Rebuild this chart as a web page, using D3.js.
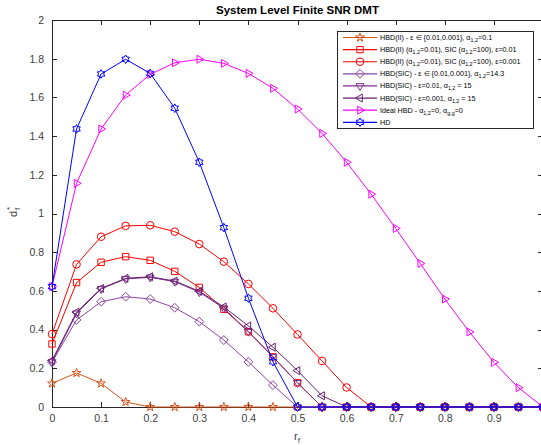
<!DOCTYPE html>
<html>
<head>
<meta charset="utf-8">
<script src="https://cdn.jsdelivr.net/npm/d3@7/dist/d3.min.js"></script>
<style>
  body { margin: 0; background: #fff; }
  svg { display: block; font-family: "Liberation Sans", Arial, Helvetica, sans-serif; }
</style>
</head>
<body>
<svg id="chart" width="541" height="445"></svg>
<script>
// Rate points r_f
const rf = [0, 0.05, 0.1, 0.15, 0.2, 0.25, 0.3, 0.35, 0.4, 0.45, 0.5,
            0.55, 0.6, 0.65, 0.7, 0.75, 0.8, 0.85, 0.9, 0.95, 1];

// Diversity d_f^* for each scheme
const hbdIIEps = [0.122, 0.176, 0.122, 0.026, 0, 0, 0, 0, 0, 0, 0, 0, 0, 0, 0, 0, 0, 0, 0, 0, 0];
const hbdIISic01 = [0.326, 0.643, 0.748, 0.777, 0.758, 0.701, 0.618, 0.505, 0.389, 0.259, 0.125, 0, 0, 0, 0, 0, 0, 0, 0, 0, 0];
const hbdIISic001 = [0.377, 0.737, 0.88, 0.936, 0.939, 0.906, 0.842, 0.751, 0.636, 0.51, 0.375, 0.238, 0.101, 0, 0, 0, 0, 0, 0, 0, 0];
const hbdSicEps = [0.232, 0.45, 0.544, 0.57, 0.558, 0.513, 0.441, 0.346, 0.233, 0.113, 0, 0, 0, 0, 0, 0, 0, 0, 0, 0, 0];
const hbdSic01 = [0.232, 0.484, 0.61, 0.662, 0.67, 0.648, 0.594, 0.51, 0.39, 0.26, 0.125, 0, 0, 0, 0, 0, 0, 0, 0, 0, 0];
const hbdSic001 = [0.24, 0.49, 0.613, 0.665, 0.673, 0.651, 0.598, 0.517, 0.419, 0.309, 0.188, 0.058, 0, 0, 0, 0, 0, 0, 0, 0, 0];
const idealHbd = [0.622, 1.156, 1.437, 1.612, 1.719, 1.779, 1.797, 1.776, 1.724, 1.647, 1.54, 1.414, 1.265, 1.10, 0.923, 0.742, 0.558, 0.388, 0.231, 0.1, 0];
const hd = [0.622, 1.437, 1.721, 1.797, 1.724, 1.544, 1.265, 0.927, 0.562, 0.234, 0, 0, 0, 0, 0, 0, 0, 0, 0, 0, 0];

// Axis ticks (the tick at 1 sits on the clipped right edge and carries no label)
const xTicks = [0, 0.1, 0.2, 0.3, 0.4, 0.5, 0.6, 0.7, 0.8, 0.9, 1];
const xTickLabels = ["0", "0.1", "0.2", "0.3", "0.4", "0.5", "0.6", "0.7", "0.8", "0.9", ""];
const yTicks = [0, 0.2, 0.4, 0.6, 0.8, 1, 1.2, 1.4, 1.6, 1.8, 2];
const yTickLabels = ["0", "0.2", "0.4", "0.6", "0.8", "1", "1.2", "1.4", "1.6", "1.8", "2"];

// Legend entries: text runs, "s" marks a subscript run
const legendLabels = [
  [["HBD(II) - \u03b5 \u2208 {0.01,0.001}, \u03b1"], ["1,2", "s"], ["=0.1"]],
  [["HBD(II) (\u03b1"], ["1,2", "s"], ["=0.01), SIC (\u03b1"], ["1,2", "s"], ["=100), \u03b5=0.01"]],
  [["HBD(II) (\u03b1"], ["1,2", "s"], ["=0.01), SIC (\u03b1"], ["1,2", "s"], ["=100), \u03b5=0.001"]],
  [["HBD(SIC) - \u03b5 \u2208 {0.01,0.001}, \u03b1"], ["1,2", "s"], ["=14.3"]],
  [["HBD(SIC) - \u03b5=0.01, \u03b1"], ["1,2", "s"], [" = 15"]],
  [["HBD(SIC) - \u03b5=0.001, \u03b1"], ["1,2", "s"], [" = 15"]],
  [["Ideal HBD - \u03b1"], ["1,2", "s"], ["=0, \u03b1"], ["g,g", "s"], ["=0"]],
  [["HD"]]
];

const series = [
  { values: hbdIIEps,    color: "#D95319", marker: "star" },
  { values: hbdIISic01,  color: "#FF0000", marker: "square" },
  { values: hbdIISic001, color: "#FF0000", marker: "circle" },
  { values: hbdSicEps,   color: "#8C44A2", marker: "diamond" },
  { values: hbdSic01,    color: "#7E2F8E", marker: "tdown" },
  { values: hbdSic001,   color: "#6A1F74", marker: "tleft" },
  { values: idealHbd,    color: "#FF00FF", marker: "tright" },
  { values: hd,          color: "#0000FF", marker: "hexagram" }
];
series.forEach((s, i) => s.label = legendLabels[i]);

const svg = d3.select("#chart");
const m = { left: 52, right: 543, top: 20, bottom: 407 };

const x = d3.scaleLinear().domain([0, 1]).range([m.left, m.right]);
const y = d3.scaleLinear().domain([0, 2]).range([m.bottom, m.top]);

// Marker shapes
function polyStar(n, rOut, rIn, rot) {
  const pts = [];
  for (let k = 0; k < 2 * n; k++) {
    const r = k % 2 === 0 ? rOut : rIn;
    const a = rot + k * Math.PI / n;
    pts.push([r * Math.cos(a), r * Math.sin(a)]);
  }
  return "M" + pts.map(p => p[0].toFixed(2) + "," + p[1].toFixed(2)).join("L") + "Z";
}
function tri(r, angle) {
  const pts = [0, 1, 2].map(k => {
    const a = angle + k * 2 * Math.PI / 3;
    return [r * Math.cos(a), r * Math.sin(a)];
  });
  return "M" + pts.map(p => p[0].toFixed(2) + "," + p[1].toFixed(2)).join("L") + "Z";
}
function markerPath(type) {
  switch (type) {
    case "star": return polyStar(5, 4.6, 1.8, -Math.PI / 2);
    case "hexagram": return polyStar(6, 4.3, 2.5, -Math.PI / 2);
    case "square": return "M-3.2,-3.2H3.2V3.2H-3.2Z";
    case "circle": return "M3.8,0A3.8,3.8 0 1,1 -3.8,0A3.8,3.8 0 1,1 3.8,0Z";
    case "diamond": return "M0,-4.4L4.4,0L0,4.4L-4.4,0Z";
    case "tdown": return tri(4.6, Math.PI / 2);
    case "tleft": return tri(4.6, Math.PI);
    case "tright": return tri(4.6, 0);
  }
}

// Plot area clip
svg.append("defs").append("clipPath").attr("id", "plotClip")
  .append("rect").attr("x", m.left - 6).attr("y", m.top - 6)
  .attr("width", m.right - m.left + 12).attr("height", m.bottom - m.top + 12);

const axisColor = "#262626";
const labelColor = "#404040";

// Box and ticks
const axes = svg.append("g");
axes.append("rect").attr("x", m.left).attr("y", m.top)
  .attr("width", m.right - m.left).attr("height", m.bottom - m.top)
  .attr("fill", "none").attr("stroke", axisColor).attr("stroke-width", 1)
  .attr("shape-rendering", "crispEdges");

const bottomAxis = d3.axisBottom(x).tickValues(xTicks).tickSizeInner(-5).tickSizeOuter(0)
  .tickPadding(8).tickFormat((d, i) => xTickLabels[i]);
const topAxis = d3.axisTop(x).tickValues(xTicks).tickSizeInner(-5).tickSizeOuter(0).tickFormat("");
const leftAxis = d3.axisLeft(y).tickValues(yTicks).tickSizeInner(-5).tickSizeOuter(0)
  .tickPadding(8).tickFormat((d, i) => yTickLabels[i]);
const rightAxis = d3.axisRight(y).tickValues(yTicks).tickSizeInner(-5).tickSizeOuter(0).tickFormat("");

function styleAxis(g) {
  g.select(".domain").remove();
  g.selectAll(".tick line").attr("stroke", axisColor).attr("shape-rendering", "crispEdges");
  g.selectAll(".tick text").attr("fill", labelColor).attr("font-size", 10.5)
    .attr("font-family", "'Liberation Sans', Arial, sans-serif");
}
axes.append("g").attr("transform", `translate(0,${m.bottom})`).call(bottomAxis).call(styleAxis);
axes.append("g").attr("transform", `translate(0,${m.top})`).call(topAxis).call(styleAxis);
axes.append("g").attr("transform", `translate(${m.left},0)`).call(leftAxis).call(styleAxis);
axes.append("g").attr("transform", `translate(${m.right},0)`).call(rightAxis).call(styleAxis);

// Series lines and markers
const plot = svg.append("g").attr("clip-path", "url(#plotClip)");
const line = d3.line().x((d, i) => x(rf[i])).y(d => y(d));
series.forEach(s => {
  const g = plot.append("g");
  g.append("path").datum(s.values).attr("d", line)
    .attr("fill", "none").attr("stroke", s.color).attr("stroke-width", 1);
  g.selectAll("path.mk").data(s.values).enter().append("path").attr("class", "mk")
    .attr("d", markerPath(s.marker))
    .attr("transform", (d, i) => `translate(${x(rf[i])},${y(d)})`)
    .attr("fill", "none").attr("stroke", s.color).attr("stroke-width", 1);
});

// Title
svg.append("text").attr("x", (m.left + m.right) / 2).attr("y", 14)
  .attr("text-anchor", "middle").attr("font-size", 11.5).attr("font-weight", "bold")
  .attr("fill", "#000").text("System Level Finite SNR DMT");

// X label r_f
const xl = svg.append("text").attr("x", 297).attr("y", 440).attr("text-anchor", "middle")
  .attr("font-size", 11).attr("fill", labelColor);
xl.append("tspan").text("r");
xl.append("tspan").attr("dy", 3).attr("font-size", 8).text("f");

// Y label d_f^*
const yl = svg.append("g").attr("transform", "translate(17,213) rotate(-90)");
yl.append("text").attr("x", -4).attr("y", 0).attr("font-size", 11).attr("fill", labelColor).text("d");
yl.append("text").attr("x", 3).attr("y", 3).attr("font-size", 8).attr("fill", labelColor).text("f");
yl.append("text").attr("x", 3).attr("y", -5).attr("font-size", 8).attr("fill", labelColor).text("*");

// Legend
const lg = svg.append("g");
lg.append("rect").attr("x", 337.5).attr("y", 31.5).attr("width", 196).attr("height", 97)
  .attr("fill", "#fff").attr("stroke", axisColor).attr("stroke-width", 1);
const rowY = d3.scaleLinear().domain([0, 7]).range([37.5, 122.3]);
series.forEach((s, i) => {
  const yy = rowY(i);
  lg.append("line").attr("x1", 343).attr("x2", 377).attr("y1", yy).attr("y2", yy)
    .attr("stroke", s.color).attr("stroke-width", 1.2);
  lg.append("path").attr("d", markerPath(s.marker))
    .attr("transform", `translate(360,${yy})`)
    .attr("fill", "none").attr("stroke", s.color).attr("stroke-width", 1);
  const t = lg.append("text").attr("x", 380).attr("y", yy + 2.5)
    .attr("font-size", 7.2).attr("fill", "#000");
  let sub = false;
  s.label.forEach(([txt, kind]) => {
    const ts = t.append("tspan").text(txt);
    if (kind === "s") { ts.attr("dy", 2).attr("font-size", 5.4); sub = true; }
    else if (sub) { ts.attr("dy", -2); sub = false; }
  });
});
</script>
</body>
</html>
